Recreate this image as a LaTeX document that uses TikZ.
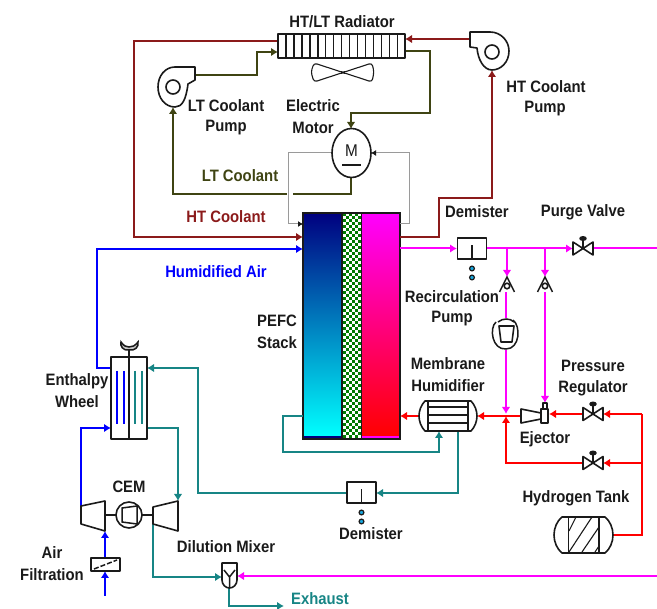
\documentclass[tikz,border=0pt]{standalone}
\usepackage{fontspec}
\setmainfont[FakeStretch=0.9]{Liberation Sans}
\usetikzlibrary{arrows.meta,shapes.geometric}
\definecolor{htred}{HTML}{8B1A1A}
\definecolor{ltgreen}{HTML}{3F4413}
\definecolor{tealx}{HTML}{178585}
\definecolor{grayx}{HTML}{9A9A9A}
\definecolor{magx}{HTML}{FF00FF}
\definecolor{bluex}{HTML}{0000FF}
\definecolor{redx}{HTML}{FF0000}
\definecolor{greenx}{HTML}{007A00}
\definecolor{inkx}{HTML}{1A1A1A}
\tikzset{
 lab/.style={font=\fontsize{16.5}{18}\selectfont\bfseries,inner sep=0pt,text=inkx},
 eq/.style={draw=inkx,line width=1.6pt,fill=white,line join=round},
 ln/.style={draw=inkx,line width=1.5pt},
 tipx/.style={-{Latex[length=7pt,width=8.5pt]}},
 tipg/.style={-{Latex[length=5pt,width=6pt,color=inkx]}},
 ht/.style={draw=htred,line width=1.9pt},
 lt/.style={draw=ltgreen,line width=1.9pt},
 gr/.style={draw=grayx,line width=1pt},
 te/.style={draw=tealx,line width=1.9pt},
 ma/.style={draw=magx,line width=2pt},
 bl/.style={draw=bluex,line width=2pt},
 re/.style={draw=redx,line width=1.9pt},
 valvepic/.pic={
  \draw[eq] (-10,-6.5)--(10,6.5)--(10,-6.5)--(-10,6.5)--cycle;
  \draw[ln] (0,0)--(0,-9);
  \draw[eq,fill=inkx] (0,-10) ellipse (3pt and 1.6pt);
 },
 checkpic/.pic={
  \draw[ln] (-7.5,15)--(0,0)--(7.5,15);
  \draw[eq] (0,9) circle (2.8pt);
 },
 demisterpic/.pic={
  \draw[eq] (-14.5,-10.5) rectangle (14.5,10.5);
  \draw[ln] (0,10.5)--(0,-3);
  \draw[draw=inkx,line width=1.2pt,fill=cyan!80!teal] (0,20) circle (2.4pt);
  \draw[draw=inkx,line width=1.2pt,fill=cyan!80!teal] (0,29) circle (2.4pt);
 },
}
\begin{document}
\begin{tikzpicture}[x=1pt,y=-1pt]
\useasboundingbox (0,0) rectangle (657,609);
% ---- connection points
\coordinate (radW1) at (278,41); \coordinate (radW2) at (278,52);
\coordinate (radE1) at (405,39); \coordinate (radE2) at (405,51);
\coordinate (stkW1) at (303,224); \coordinate (stkW2) at (303,237); \coordinate (stkW3) at (303,249); \coordinate (stkW4) at (303,416);
\coordinate (stkE1) at (400,224); \coordinate (stkE2) at (400,237); \coordinate (stkE3) at (400,248.5); \coordinate (stkE4) at (400,416);
\coordinate (motN) at (351,129); \coordinate (motS) at (351,178); \coordinate (motW) at (332,153); \coordinate (motE) at (371,153);
\coordinate (ltpE) at (195,75); \coordinate (ltpS) at (173,107);
\coordinate (htpW) at (471,39); \coordinate (htpS) at (492,70);
\coordinate (whlW1) at (111,368); \coordinate (whlW2) at (111,428); \coordinate (whlE1) at (147,368); \coordinate (whlE2) at (147,428);
\coordinate (cmpW) at (81,506); \coordinate (cmpS) at (105,531); \coordinate (turN) at (178,501); \coordinate (turW) at (153,524);
\coordinate (airIn) at (105,596); \coordinate (filS) at (105,571); \coordinate (filN) at (105,558);
\coordinate (mixW) at (222,577); \coordinate (mixE) at (237,576); \coordinate (mixS) at (229,588);
\coordinate (exhEnd) at (284,606); \coordinate (magEnd) at (657,576);
\coordinate (dm1W) at (457,248.5); \coordinate (dm1E) at (487,248.5);
\coordinate (dm2W) at (347,493); \coordinate (dm2E) at (376,493);
\coordinate (pvW) at (573,248.5); \coordinate (pvE) at (593,248.5); \coordinate (purgeEnd) at (657,248.5);
\coordinate (b1) at (507,248.5); \coordinate (b2) at (545,248.5);
\coordinate (ck1N) at (507,277); \coordinate (ck2N) at (545,277); \coordinate (ck1S) at (506,292); \coordinate (ck2S) at (545,292);
\coordinate (rpN) at (506,318); \coordinate (rpS) at (506,350);
\coordinate (jct) at (506,414); \coordinate (jctS) at (506,416);
\coordinate (ejN) at (545,403); \coordinate (ejW) at (521,416); \coordinate (ejE) at (549,414);
\coordinate (prW) at (583,414); \coordinate (prE) at (603,414); \coordinate (bvW) at (583,463); \coordinate (bvE) at (603,463);
\coordinate (hmW) at (419,416); \coordinate (hmE) at (477,416); \coordinate (hmS1) at (439,431); \coordinate (hmS2) at (458,431);
\coordinate (tnkE) at (612,535);
% ---- stack
\shade[top color=blue!50!black,bottom color=cyan] (304,213) rectangle (342,436);
\shade[top color=magx,bottom color=redx] (361,213) rectangle (400,436);
\fill[white] (342,213) rectangle (361,439);
\foreach \i in {0,...,5}{\foreach \j in {0,...,74}{
 \pgfmathparse{int(mod(\i+\j,2))}
 \ifnum\pgfmathresult=0 \fill[greenx] (342.5+\i*3,213+\j*3) rectangle ++(3,3);\fi}}
\fill[blue!50!black] (304,436) rectangle (342,439);
\fill[magx] (361,436) rectangle (400,439);
\node[draw=inkx,line width=1.4pt,minimum width=97pt,minimum height=226pt,inner sep=0pt] (stack) at (351.5,326) {};
\draw[inkx,line width=1.4pt] (342,213)--(342,439) (361.5,213)--(361.5,439);
% ---- HT coolant
\draw[ht,tipx] (radW1)--(134,41)--(134,237)--(stkW2);
\draw[ht,tipx] (stkE2)--(439,237)--(439,198)--(492,198)--(htpS);
\draw[ht,tipx] (htpW)--(radE1);
% ---- LT coolant
\draw[lt,tipx] (ltpE)--(257,75)--(257,52)--(radW2);
\draw[lt,tipx] (radE2)--(430,51)--(430,113)--(351,113)--(motN);
\draw[lt] (motS)--(351,194)--(293,194);
\draw[lt,tipx] (287,194)--(173,194)--(ltpS);
% ---- gray
\draw[gr,tipg] (motW)--(288,153)--(288,224)--(stkW1);
\draw[gr,tipg] (stkE1)--(409,224)--(409,153)--(motE);
% ---- air
\draw[bl,tipx] (whlW1)--(97,368)--(97,249)--(stkW3);
\draw[bl,tipx] (cmpW)--(81,428)--(whlW2);
\draw[bl,tipx] (airIn)--(filS);
\draw[bl,tipx] (filN)--(cmpS);
\draw[te,tipx] (whlE2)--(178,428)--(turN);
\draw[te,tipx] (dm2W)--(198,493)--(198,368)--(whlE1);
\draw[te,tipx] (hmS2)--(458,493)--(dm2E);
\draw[te,tipx] (stkW4)--(283,416)--(283,452)--(439,452)--(hmS1);
\draw[te,tipx] (turW)--(153,577)--(mixW);
\draw[te,tipx] (mixS)--(229,606)--(exhEnd);
\draw[ma,tipx] (magEnd)--(mixE);
% ---- anode
\draw[ma,tipx] (stkE3)--(dm1W);
\draw[ma,tipx] (dm1E)--(pvW);
\draw[ma] (pvE)--(purgeEnd);
\draw[ma,tipx] (b1)--(ck1N);
\draw[ma,tipx] (b2)--(ck2N);
\draw[ma] (ck1S)--(rpN);
\draw[ma,tipx] (rpS)--(jct);
\draw[ma,tipx] (ck2S)--(ejN);
\draw[re,tipx] (prW)--(ejE);
\draw[re,tipx] (642,414)--(prE);
\draw[re,tipx] (642,463)--(bvE);
\draw[re] (tnkE)--(642,535)--(642,414);
\draw[re,tipx] (bvW)--(506,463)--(jctS);
\draw[re,tipx] (ejW)--(hmE);
\draw[re,tipx] (hmW)--(stkE4);
% ---- radiator
\node[eq,minimum width=127pt,minimum height=24pt,inner sep=0pt] (rad) at (341.5,46) {};
\foreach \k in {1,...,15}{\draw[ln] (278+\k*7.95,34)--(278+\k*7.95,58);}
% ---- fan
\draw[inkx,line width=1.1pt,rounded corners=3pt] (314,63)--(343,72.5)--(372,63)--(374,72)--(372,82)--(343,72.5)--(314,82)--(311,72)--cycle;
% ---- LT pump
\draw[eq] (195,67)--(175,67) .. controls (165,67) and (158,76) .. (158,87) .. controls (158,98) and (165,107) .. (175,107) .. controls (182,107) and (186,100) .. (188,84)--(195,80)--cycle;
\node[draw=inkx,line width=1.6pt,circle,minimum size=14pt,inner sep=0pt] (ltpump) at (173,87) {};
% ---- HT pump
\draw[eq] (470,32)--(490,32) .. controls (501,32) and (509,41) .. (509,51) .. controls (509,62) and (501,70) .. (492,70) .. controls (484,70) and (478,60) .. (477,48)--(470,47)--cycle;
\node[draw=inkx,line width=1.6pt,circle,minimum size=14pt,inner sep=0pt] (htpump) at (492,52) {};
% ---- motor
\node[eq,ellipse,minimum width=39pt,minimum height=49pt,inner sep=0pt] (motor) at (351.5,153) {};
\node[lab,font=\fontsize{17}{18}\selectfont] (mtxt) at (351.5,151) {M};
\draw[ln] (342,165)--(361,165);
% ---- wheel
\node[eq,minimum width=36pt,minimum height=82pt,inner sep=0pt] (wheel) at (129,398) {};
\draw[ln] (129,346)--(129,439);
\draw[ln,fill=inkx!25] (129,350) .. controls (123,351) and (120,346) .. (121,342) .. controls (124,346) and (126,347) .. (129,347) .. controls (132,347) and (135,346) .. (138,342) .. controls (139,347) and (135,351) .. (129,350);
\draw[draw=bluex,line width=1.6pt] (117,371)--(117,424) (124,371)--(124,424);
\draw[draw=tealx,line width=1.6pt] (135,371)--(135,424) (142,371)--(142,424);
% ---- CEM
\draw[eq] (81,506)--(105,501)--(105,531)--(81,524)--cycle;
\draw[eq] (153,507)--(178,501)--(178,531)--(153,524)--cycle;
\draw[ln] (105,515)--(153,515);
\node[eq,circle,minimum size=26pt,inner sep=0pt] (cemmotor) at (129,515) {};
\draw[ln] (122,508)--(137,506)--(137,524)--(122,522)--cycle;
% ---- filter
\node[eq,minimum width=29pt,minimum height=13pt,inner sep=0pt] (filter) at (105.5,564.5) {};
\draw[ln,dash pattern=on 5pt off 2pt] (94,569)--(117,560);
% ---- mixer
\draw[eq] (222,563)--(237,563)--(237,580) .. controls (237,585) and (233,588) .. (229.5,588) .. controls (226,588) and (222,585) .. (222,580)--cycle;
\draw[ln] (224,570)--(229.5,577)--(235,570) (229.5,577)--(229.5,588);
% ---- demisters
\pic (dmA) at (472,248.5) {demisterpic};
\pic (dmB) at (361.5,492.5) {demisterpic};
% ---- valves
\pic (purge) at (583,248.5) {valvepic};
\pic (preg) at (593,414) {valvepic};
\pic (bypass) at (593,463) {valvepic};
\pic (ckA) at (507,277) {checkpic};
\pic (ckB) at (545,277) {checkpic};
% ---- recirculation pump
\draw[ln] (496,322) .. controls (489,328) and (492,350) .. (506,349) .. controls (520,349) and (521,326) .. (513,320);
\draw[eq] (499,326)--(514,326)--(512,342)--(501,342)--cycle;
\draw[ln] (498,322) .. controls (503,318) and (510,318) .. (514,322);
% ---- humidifier
\draw[eq] (425,401)--(471,401) .. controls (475,405) and (477,411) .. (477,416) .. controls (477,421) and (475,427) .. (471,431)--(425,431) .. controls (421,427) and (419,421) .. (419,416) .. controls (419,411) and (421,405) .. (425,401)--cycle;
\draw[ln] (428,401)--(428,431) (468,401)--(468,431) (428,407)--(468,407) (428,415)--(468,415) (428,423)--(468,423);
% ---- ejector
\draw[eq] (521,409)--(541,413)--(541,419)--(521,423)--cycle;
\draw[eq] (541,409) rectangle (548,423);
\draw[eq] (543,403) rectangle (547,409);
% ---- tank
\draw[eq] (562,517)--(605,517) .. controls (610,521) and (613,528) .. (613,535) .. controls (613,542) and (610,549) .. (605,553)--(562,553) .. controls (557,549) and (554,542) .. (554,535) .. controls (554,528) and (557,521) .. (562,517)--cycle;
\draw[ln] (568.5,517)--(568.5,553) (599,517)--(599,553);
\draw[draw=inkx,line width=1.1pt] (569,531)--(576,517) (569,552)--(592,517) (582,552)--(599,527) (595,552)--(599,546);
% ---- labels
\node[lab] (l1) at (342,22) {HT/LT Radiator};
\node[lab] (l2) at (226,106) {LT Coolant};
\node[lab] (l3) at (226,128) {Pump};
\node[lab] (l4) at (313,106) {Electric};
\node[lab] (l5) at (313,128) {Motor};
\node[lab,text=ltgreen] (l6) at (240,176) {LT Coolant};
\node[lab,text=htred] (l7) at (226,217) {HT Coolant};
\node[lab] (l8) at (546,87) {HT Coolant};
\node[lab] (l9) at (545,109) {Pump};
\node[lab] (l10) at (477,212) {Demister};
\node[lab] (l11) at (583,212) {Purge Valve};
\node[lab,text=bluex] (l12) at (216,272) {Humidified Air};
\node[lab] (l13) at (277,321) {PEFC};
\node[lab] (l14) at (277,343) {Stack};
\node[lab] (l15) at (452,297) {Recirculation};
\node[lab] (l16) at (452,319) {Pump};
\node[lab] (l17) at (448,364) {Membrane};
\node[lab] (l18) at (448,386) {Humidifier};
\node[lab] (l19) at (593,366) {Pressure};
\node[lab] (l20) at (593,388) {Regulator};
\node[lab] (l21) at (545,439) {Ejector};
\node[lab] (l22) at (576,498) {Hydrogen Tank};
\node[lab] (l23) at (371,534) {Demister};
\node[lab] (l24) at (226,547) {Dilution Mixer};
\node[lab,text=tealx] (l25) at (320,599) {Exhaust};
\node[lab] (l26) at (77,381) {Enthalpy};
\node[lab] (l27) at (77,402) {Wheel};
\node[lab] (l28) at (129,487) {CEM};
\node[lab] (l29) at (52,553) {Air};
\node[lab] (l30) at (52,575) {Filtration};
\end{tikzpicture}
\end{document}
